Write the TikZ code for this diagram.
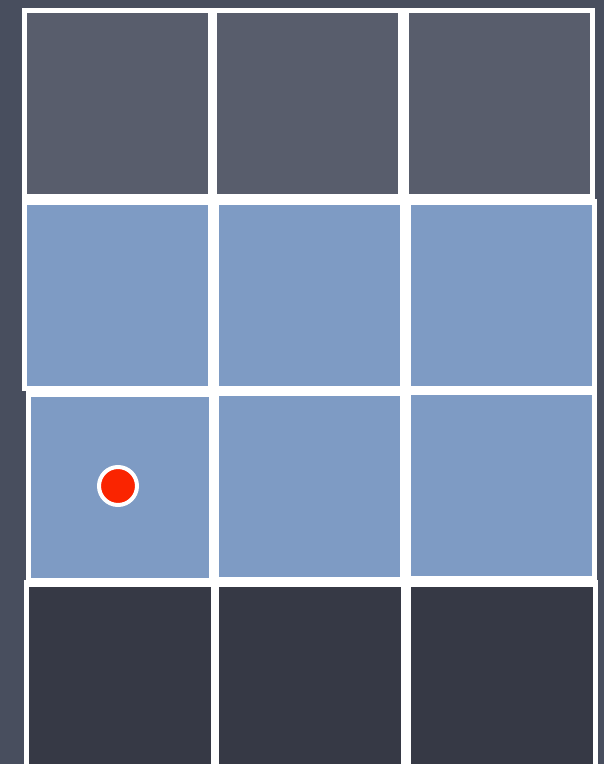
\documentclass[tikz,border=0pt]{standalone}
\usepackage{tikz}
\usetikzlibrary{positioning}

\definecolor{slate}{RGB}{72,78,94}
\definecolor{slatetop}{RGB}{88,93,108}
\definecolor{slatelow}{RGB}{54,57,69}
\definecolor{tileblue}{RGB}{126,155,196}
\definecolor{dotred}{RGB}{250,36,0}

\tikzset{
    cell/.style={draw=white, line width=5pt, inner sep=0pt, minimum width=#1, minimum height=186pt},
    topcell/.style={cell=186pt, fill=slatetop},
    bluecell/.style={cell=186pt, fill=tileblue},
    lowcell/.style={cell=187pt, fill=slatelow},
    marker/.style={circle, fill=dotred, draw=white, line width=4pt, inner sep=0pt, minimum size=38pt}
}

\begin{document}
\begin{tikzpicture}[x=1pt, y=-1pt]
    \useasboundingbox (0,0) rectangle (604,764);
    \clip (0,0) rectangle (604,764);
    \fill[slate] (0,0) rectangle (604,764);

    % white bands behind each row
    \fill[white] (22,8) rectangle (595,199);
    \fill[white] (22,199) rectangle (597,391);
    \fill[white] (26,389) rectangle (597,583);
    \fill[white] (24,580) rectangle (598,764);

    % top row
    \node[topcell] (t1) at (117.5,103.5) {};
    \node[topcell] (t2) at (307.5,103.5) {};
    \node[topcell] (t3) at (499,103.5) {};

    % blue rows
    \node[bluecell] (b1) at (117.5,295.5) {};
    \node[bluecell] (b2) at (309.5,295.5) {};
    \node[bluecell] (b3) at (501.5,295.5) {};
    \node[bluecell, minimum width=183pt] (c1) at (120,487.5) {};
    \node[bluecell] (c2) at (309.5,486.5) {};
    \node[bluecell] (c3) at (501.5,485) {};

    % bottom row
    \node[lowcell] (l1) at (120,677.5) {};
    \node[lowcell] (l2) at (309.5,677.5) {};
    \node[lowcell] (l3) at (502,677.5) {};

    \node[marker] (dot) at (118,486) {};
\end{tikzpicture}
\end{document}
